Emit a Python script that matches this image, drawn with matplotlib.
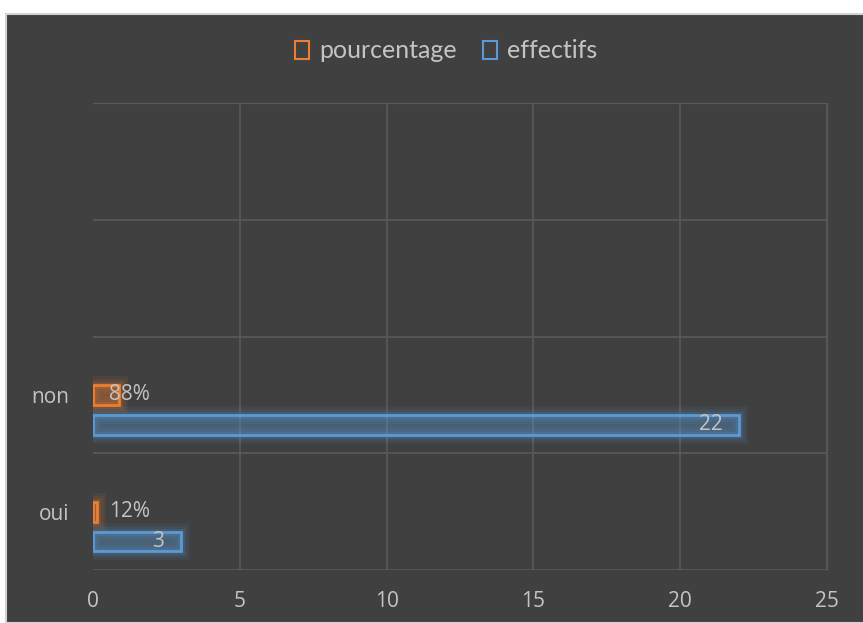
import matplotlib
matplotlib.use('Agg')
import matplotlib.pyplot as plt
import matplotlib.patheffects as pe
from matplotlib.patches import Rectangle, Patch
import numpy as np

# data
categories = ['oui', 'non', '', '']
pourcentage = [0.12, 0.88]
pourcentage_labels = ['12%', '88%']
effectifs = [3, 22]
x_ticks = [0, 5, 10, 15, 20, 25]

orange = '#ED7D31'
blue = '#5B9BD5'
bg = '#404040'
txt = '#c4c4c4'
grid = '#5a5a5a'

plt.rcParams['font.family'] = ['Open Sans', 'DejaVu Sans']

fig = plt.figure(figsize=(8.63, 6.23), dpi=100, facecolor='white')
# dark chart area with light border
fig.patches.append(Rectangle((6/863, 0), 1, 1 - 14/623, transform=fig.transFigure,
                             facecolor=bg, edgecolor='#d4d4d4', linewidth=1.5, zorder=-1))

ax = fig.add_axes([93/863, 1 - 570/623, (827 - 93)/863, (570 - 103)/623])
ax.set_zorder(2)
ax.patch.set_alpha(0)

y = np.arange(len(pourcentage)) + 0.5
h = 0.17

def glow(color):
    return [pe.Stroke(linewidth=13, foreground=color, alpha=0.07),
            pe.Stroke(linewidth=9, foreground=color, alpha=0.10),
            pe.Stroke(linewidth=5, foreground=color, alpha=0.16),
            pe.Normal()]

# effectifs bars (outlined)
b2 = ax.barh(y - 0.256, effectifs, height=h, facecolor=(0.36, 0.61, 0.84, 0.08),
             edgecolor=blue, linewidth=2, zorder=3)
for r in b2:
    r.set_path_effects(glow(blue))
# pourcentage bars
b1 = ax.barh(y, pourcentage, height=h, facecolor=(0.93, 0.49, 0.19, 0.08),
             edgecolor=orange, linewidth=2, zorder=3)
for r in b1:
    r.set_path_effects(glow(orange))

# labels
for yy, lab in zip(y, pourcentage_labels):
    ax.annotate(lab, (0, yy), xytext=(11.5, 0), textcoords='offset points',
                ha='left', va='center', color=txt, fontsize=15, zorder=5)
for yy, v in zip(y - 0.256, effectifs):
    ax.annotate(str(v), (v, yy), xytext=(-12, 0), textcoords='offset points',
                ha='right', va='center', color=txt, fontsize=15, zorder=5)

ax.set_xlim(0, 25)
ax.set_ylim(0, 4)
ax.set_xticks(x_ticks)
ax.set_xticklabels([str(t) for t in x_ticks])
ax.set_yticks([0, 1, 2, 3, 4])
ax.set_yticklabels([])
ax.set_yticks(np.arange(4) + 0.5, minor=True)
ax.set_yticklabels(categories, minor=True)
ax.tick_params(axis='both', which='both', length=0, colors=txt, labelsize=15)
ax.tick_params(axis='x', pad=15)
ax.tick_params(axis='y', which='minor', pad=17)
ax.grid(True, which='major', color=grid, linewidth=1.2, zorder=1)
ax.xaxis.get_gridlines()[0].set_visible(False)
ax.set_axisbelow(True)
for s in ax.spines.values():
    s.set_visible(False)
ax.spines['right'].set_visible(True)
ax.spines['right'].set_color(grid)
ax.spines['top'].set_visible(True)
ax.spines['top'].set_color(grid)

handles = [Patch(facecolor='none', edgecolor=orange, linewidth=1.5, label='pourcentage'),
           Patch(facecolor='none', edgecolor=blue, linewidth=1.5, label='effectifs')]
leg = fig.legend(handles=handles, loc='center', bbox_to_anchor=(446/863, 1 - 51/623), ncol=2,
                 frameon=False, prop={'family': ['Lato'], 'size': 18},
                 handlelength=0.55, handleheight=0.75,
                 handletextpad=0.4, columnspacing=1.05)
for t in leg.get_texts():
    t.set_color(txt)

fig.savefig('out.png', dpi=100, facecolor=fig.get_facecolor())
